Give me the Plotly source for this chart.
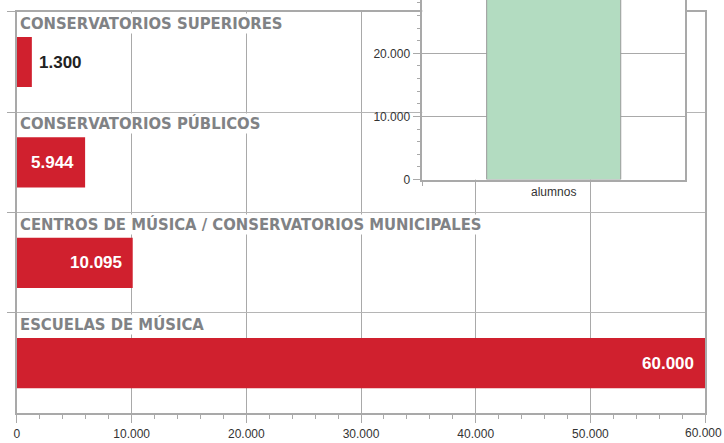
import plotly.graph_objects as go

# ---- data ----
categories = [
    "CONSERVATORIOS SUPERIORES",
    "CONSERVATORIOS PÚBLICOS",
    "CENTROS DE MÚSICA / CONSERVATORIOS MUNICIPALES",
    "ESCUELAS DE MÚSICA",
]
values = [1300, 5944, 10095, 60000]
x_ticks = [0, 10000, 20000, 30000, 40000, 50000, 60000]

inset_category = ["alumnos"]
inset_values = [77339]
inset_ticks = [0, 10000, 20000]

# ---- styles ----
W, H = 724, 443
RED = "#d0202e"
GREEN = "#b3dcc1"
GRID = "#a9a9a9"
LABEL_GRAY = "#808285"
TXT = "#333333"
BASE_FONT = "Liberation Sans, Arial, sans-serif"
NARROW_FONT = "DejaVu Sans Condensed, Liberation Sans Narrow, sans-serif"

def fmt(v):
    return f"{v:,}".replace(",", ".")

main_x0, main_x1 = 14, 705
main_top, main_bot = 12, 420
inset_x0, inset_x1 = 421, 685
inset_bot = 182.5

fig = go.Figure()

fig.add_trace(go.Bar(
    x=values, y=categories, orientation="h",
    marker=dict(color=RED, line=dict(width=0)),
    width=0.5, xaxis="x", yaxis="y", hoverinfo="skip",
))

fig.add_trace(go.Bar(
    x=inset_category, y=inset_values,
    marker=dict(color=GREEN, line=dict(color="#9a9a9a", width=1)),
    width=0.51, xaxis="x2", yaxis="y2", hoverinfo="skip",
))

annotations = []
for i, (c, v) in enumerate(zip(categories, values)):
    annotations.append(dict(
        x=0, y=i - 0.5, xref="x", yref="y", text=c, showarrow=False,
        xanchor="left", yanchor="top", xshift=2, yshift=-1,
        bgcolor="white", borderpad=0,
        font=dict(family=NARROW_FONT, size=16.5, color=LABEL_GRAY, weight=700),
    ))
    bar_px = v / x_ticks[-1] * (main_x1 - main_x0)
    txt = fmt(v)
    inside = bar_px > len(txt) * 9.5 + 16
    annotations.append(dict(
        x=v, y=i, xref="x", yref="y", text=txt, showarrow=False,
        xanchor="right" if inside else "left", yanchor="middle",
        xshift=-9 if inside else 5,
        font=dict(family=BASE_FONT, size=17, color="white" if inside else "#222222", weight=700),
    ))

# last x tick label drawn as an annotation so it stays inside the page
annotations.append(dict(
    x=x_ticks[-1], y=1 - 440 / H, xref="x", yref="paper", text=fmt(x_ticks[-1]),
    showarrow=False, xanchor="center", yanchor="middle", xshift=-2,
    font=dict(family=BASE_FONT, size=12, color=TXT),
))
tick_text = [fmt(t) for t in x_ticks[:-1]] + [""]

fig.update_layout(
    width=W, height=H, autosize=False,
    margin=dict(l=0, r=0, t=0, b=0),
    paper_bgcolor="white", plot_bgcolor="white",
    separators=",.",
    showlegend=False,
    barmode="overlay",
    font=dict(family=BASE_FONT, size=12, color=TXT),
    annotations=annotations,
    xaxis=dict(
        domain=[main_x0 / W, main_x1 / W],
        range=[0, x_ticks[-1]],
        tickvals=x_ticks, ticktext=tick_text,
        ticks="outside", ticklen=8, tickcolor=GRID, tickwidth=1,
        minor=dict(dtick=2000, ticks="outside", ticklen=4, tickcolor=GRID, showgrid=False),
        showgrid=True, gridcolor=GRID, gridwidth=1,
        showline=True, linecolor=GRID, linewidth=1.5, mirror=True,
        zeroline=False, fixedrange=True,
        tickfont=dict(size=12, color=TXT),
        anchor="y",
    ),
    yaxis=dict(
        domain=[1 - main_bot / H, 1 - main_top / H],
        type="category", categoryarray=categories, categoryorder="array",
        range=[len(categories) - 0.5, -0.5],
        showticklabels=False,
        tickson="boundaries", ticks="outside", ticklen=8, tickcolor=GRID,
        showgrid=True, gridcolor="#b5b5b5", gridwidth=1,
        showline=True, linecolor=GRID, linewidth=2, mirror=True,
        zeroline=False, fixedrange=True,
        anchor="x",
    ),
    xaxis2=dict(
        domain=[inset_x0 / W, inset_x1 / W],
        type="category",
        tickson="boundaries", ticks="outside", ticklen=5, tickcolor=GRID,
        showgrid=True, gridcolor=GRID,
        showline=True, linecolor=GRID, linewidth=1.5, mirror=False,
        zeroline=False, fixedrange=True,
        tickfont=dict(size=12, color=TXT),
        anchor="y2",
    ),
    yaxis2=dict(
        domain=[1 - inset_bot / H, 1],
        range=[0, 28450],
        tickvals=inset_ticks, tickformat=",d",
        ticks="outside", ticklen=8, tickcolor=GRID,
        minor=dict(dtick=2000, ticks="outside", ticklen=4, tickcolor=GRID, showgrid=False),
        showgrid=True, gridcolor=GRID, gridwidth=1,
        showline=True, linecolor=GRID, linewidth=1.5, mirror=True,
        zeroline=False, fixedrange=True,
        tickfont=dict(size=12, color=TXT),
        anchor="x2",
    ),
)

post = ("document.documentElement.style.margin='0';"
        "document.body.style.margin='0';"
        "document.body.style.padding='0';"
        "document.body.style.overflow='hidden';"
        "document.documentElement.style.overflow='hidden';")

fig.write_html("out.html", config={"displayModeBar": False}, post_script=post)
